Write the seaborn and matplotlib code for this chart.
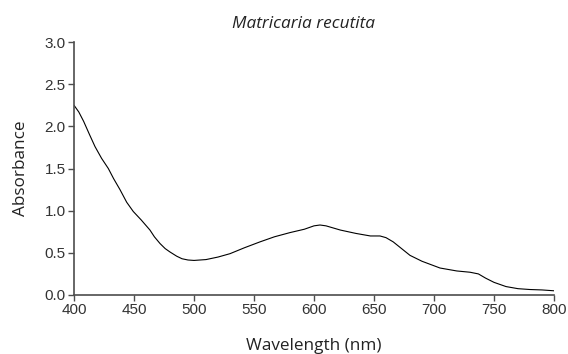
import matplotlib
matplotlib.use("Agg")
import matplotlib.pyplot as plt
import seaborn as sns
import pandas as pd

# Absorbance spectrum of Matricaria recutita extract
wavelength = [400, 404, 408, 413, 417.5, 423, 428.6, 433, 438.3, 443.9,
              449.4, 456, 463.3, 467, 471.7, 476, 480, 485.6, 490, 495,
              500, 505, 510, 520, 530, 542, 555, 567, 580, 592,
              600, 605, 610, 622, 635, 647, 655, 660, 666, 673,
              680, 690, 705, 719, 730, 737, 743, 750, 760, 770,
              780, 790, 800]
absorbance = [2.25, 2.17, 2.06, 1.90, 1.76, 1.62, 1.50, 1.38, 1.25, 1.10,
              0.99, 0.89, 0.77, 0.69, 0.61, 0.55, 0.51, 0.46, 0.43, 0.415,
              0.41, 0.415, 0.42, 0.45, 0.49, 0.56, 0.63, 0.69, 0.74, 0.78,
              0.82, 0.83, 0.82, 0.77, 0.73, 0.70, 0.70, 0.68, 0.63, 0.55,
              0.47, 0.40, 0.32, 0.285, 0.27, 0.25, 0.20, 0.15, 0.10, 0.075,
              0.065, 0.06, 0.05]

x_ticks = [400, 450, 500, 550, 600, 650, 700, 750, 800]
y_ticks = [0.0, 0.5, 1.0, 1.5, 2.0, 2.5, 3.0]

sns.set_theme(style="ticks")
plt.rcParams["font.family"] = ["Open Sans", "DejaVu Sans"]

df = pd.DataFrame({"Wavelength": wavelength, "Absorbance": absorbance})

fig = plt.figure(figsize=(5.68, 3.54), dpi=100)
ax = fig.add_axes([74 / 568, 1 - 295 / 354, 480 / 568, 253 / 354])

sns.lineplot(data=df, x="Wavelength", y="Absorbance", ax=ax,
             color="black", linewidth=0.8)

ax.set_xlim(400, 800)
ax.set_ylim(0, 3.0)
ax.set_xticks(x_ticks)
ax.set_yticks(y_ticks)
ax.set_xticklabels([str(t) for t in x_ticks], family="Liberation Sans", fontsize=11, color="#333333")
ax.set_yticklabels([f"{t:.1f}" for t in y_ticks], family="Liberation Sans", fontsize=11, color="#333333")

for side in ("top", "right"):
    ax.spines[side].set_visible(False)
for side in ("left", "bottom"):
    ax.spines[side].set_color("#4d4d4d")
    ax.spines[side].set_linewidth(1.2)
ax.tick_params(axis="both", direction="out", length=4.5, width=1.0, color="#4d4d4d", pad=1.5)

ax.set_xlabel("Wavelength (nm)", fontsize=12.3, color="#222222", labelpad=15)
ax.set_ylabel("Absorbance", fontsize=12.3, color="#222222", labelpad=11)
ax.text(0.479, 1.04, "Matricaria recutita", transform=ax.transAxes,
        ha="center", va="bottom", fontsize=12.4, style="italic", color="#222222")

fig.savefig("out.png", dpi=100)
